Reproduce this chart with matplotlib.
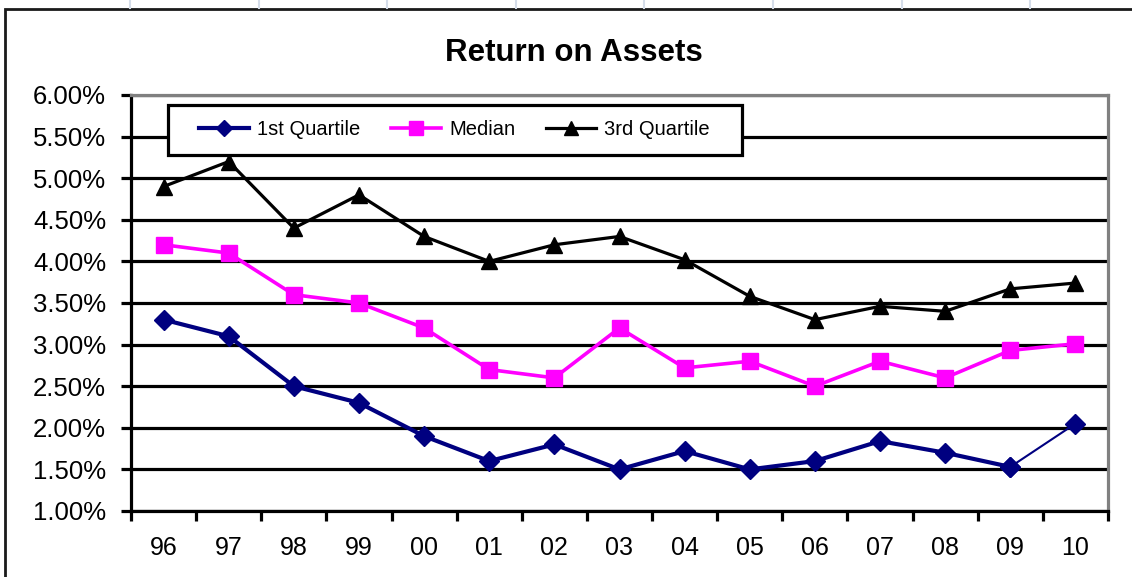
"""
Return on Assets — quartile lines by year (1996-2010)
"""

import numpy as np
import matplotlib.pyplot as plt
from matplotlib.patches import Rectangle
from matplotlib.lines import Line2D
from matplotlib.ticker import FixedLocator, PercentFormatter

years = ["96", "97", "98", "99", "00", "01", "02", "03", "04", "05",
         "06", "07", "08", "09", "10"]
q1 = [3.30, 3.10, 2.50, 2.30, 1.90, 1.60, 1.80, 1.50, 1.72, 1.50,
      1.60, 1.84, 1.70, 1.53, 2.05]
median = [4.20, 4.10, 3.60, 3.50, 3.20, 2.70, 2.60, 3.20, 2.72, 2.80,
          2.50, 2.80, 2.60, 2.93, 3.01]
q3 = [4.90, 5.20, 4.40, 4.80, 4.30, 4.00, 4.20, 4.30, 4.02, 3.58,
      3.30, 3.46, 3.40, 3.67, 3.74]
y_ticks = [1.0, 1.5, 2.0, 2.5, 3.0, 3.5, 4.0, 4.5, 5.0, 5.5, 6.0]

NAVY = "#000080"
MAGENTA = "#ff00ff"
W, H = 1132, 577


def main():
    plt.rcParams["font.family"] = ["Liberation Sans", "DejaVu Sans"]

    fig = plt.figure(figsize=(W / 100, H / 100), dpi=100)

    # spreadsheet cell lines peeking above the chart frame
    for xc in np.arange(130, W, 128.6):
        fig.add_artist(Line2D([xc / W, xc / W], [1, 1 - 8 / H],
                              transform=fig.transFigure, color="#d5dde9", lw=1.5))
    # outer chart frame
    fig.add_artist(Rectangle((5 / W, -0.05), 1.2, 1.05 - 9 / H,
                             transform=fig.transFigure, fill=False,
                             edgecolor="#1a1a1a", lw=2.0))

    ax = fig.add_axes([131 / W, 66 / H, 977 / W, 416 / H])
    x = np.arange(len(years))

    ax.plot(x[:-1], q1[:-1], color=NAVY, lw=3, marker="D", ms=10,
            markeredgecolor=NAVY, label="1st Quartile", zorder=4)
    ax.plot(x[-2:], q1[-2:], color=NAVY, lw=1.5, marker="D", ms=10, zorder=4)
    ax.plot(x, median, color=MAGENTA, lw=2.6, marker="s", ms=11.5,
            label="Median", zorder=4)
    ax.plot(x, q3, color="black", lw=2.3, marker="^", ms=12,
            label="3rd Quartile", zorder=4)

    ax.set_xlim(-0.5, len(years) - 0.5)
    ax.set_ylim(1.0, 6.0)
    ax.set_yticks(y_ticks)
    ax.yaxis.set_major_formatter(PercentFormatter(decimals=2))
    ax.grid(axis="y", color="black", lw=2.3, zorder=1)
    ax.set_axisbelow(True)

    ax.set_xticks(x)
    ax.set_xticklabels(years)
    ax.xaxis.set_minor_locator(FixedLocator(np.arange(-0.5, len(years), 1.0)))
    ax.tick_params(axis="x", which="major", length=0, pad=18, labelsize=18)
    ax.tick_params(axis="x", which="minor", length=7, width=2.3,
                   direction="out", color="black")
    ax.tick_params(axis="y", length=7, width=2.3, direction="out",
                   pad=11, labelsize=18.5)

    for side in ("left", "bottom"):
        ax.spines[side].set_color("black")
        ax.spines[side].set_linewidth(2.3)
    for side in ("top", "right"):
        ax.spines[side].set_color("#808080")
        ax.spines[side].set_linewidth(2.3)

    fig.text(574 / W, 1 - 53 / H, "Return on Assets", fontsize=22.5,
             fontweight="bold", ha="center", va="center")

    # legend box drawn by hand, entries placed inside it
    ax.add_patch(Rectangle(((168 - 131) / 977, (511 - 155) / 416),
                           (742 - 168) / 977, 50 / 416,
                           transform=ax.transAxes, facecolor="white",
                           edgecolor="black", lw=2.3, zorder=5))
    leg = ax.legend(loc="center left", ncol=3, frameon=False,
                    bbox_to_anchor=((199 - 131) / 977, (511 - 130) / 416),
                    fontsize=14.5, handlelength=2.5, handletextpad=0.4,
                    columnspacing=1.5, borderpad=0, borderaxespad=0,
                    markerscale=0.85)
    leg.set_zorder(6)

    fig.savefig("out.png", dpi=100)
    plt.close(fig)


if __name__ == "__main__":
    main()
